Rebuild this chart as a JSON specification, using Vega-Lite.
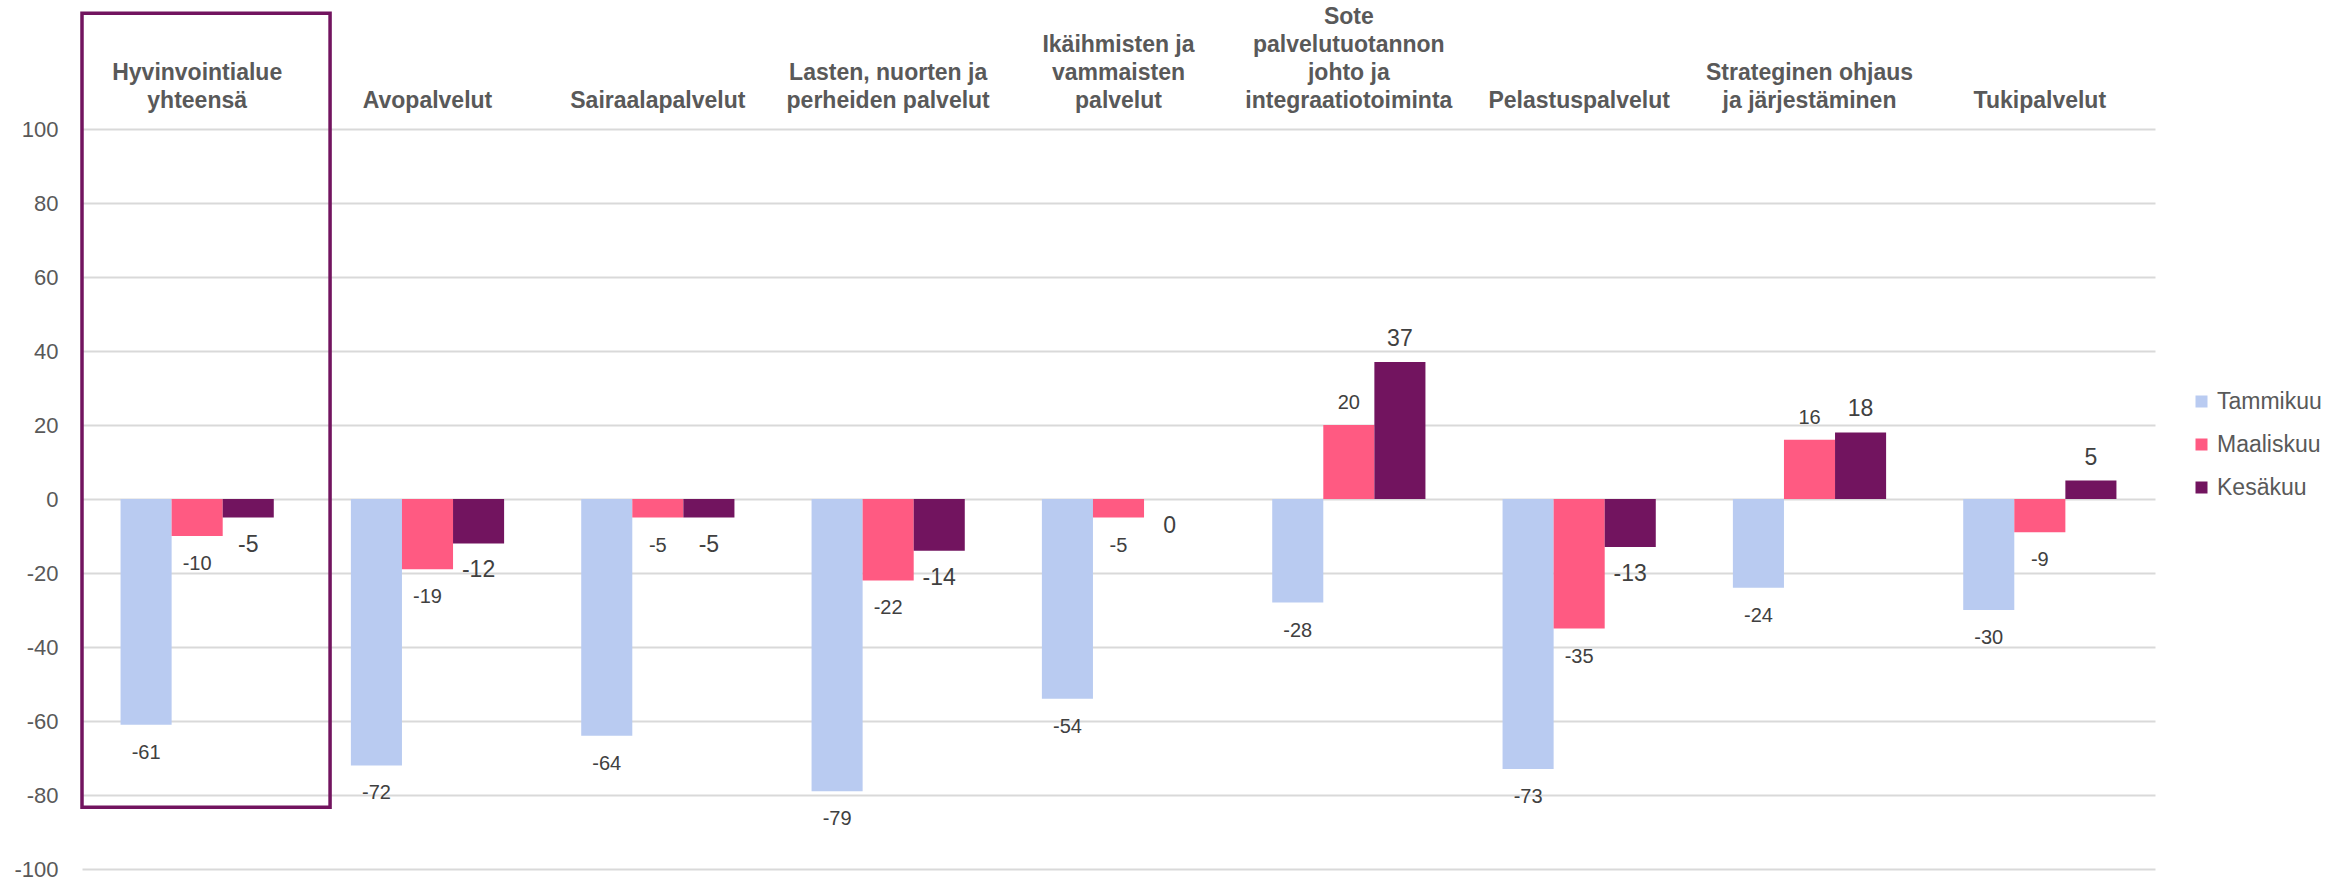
{
  "$schema": "https://vega.github.io/schema/vega-lite/v6.json",
  "width": 2073,
  "height": 740,
  "autosize": "none",
  "padding": {"left": 82, "top": 129, "right": 196, "bottom": 13},
  "background": "white",
  "config": {"view": {"stroke": null}, "font": "Liberation Sans"},
  "data": {
    "values": [
      {"alue": "Hyvinvointialue yhteensä", "kk": "Tammikuu", "arvo": -61},
      {"alue": "Hyvinvointialue yhteensä", "kk": "Maaliskuu", "arvo": -10},
      {"alue": "Hyvinvointialue yhteensä", "kk": "Kesäkuu", "arvo": -5},
      {"alue": "Avopalvelut", "kk": "Tammikuu", "arvo": -72},
      {"alue": "Avopalvelut", "kk": "Maaliskuu", "arvo": -19},
      {"alue": "Avopalvelut", "kk": "Kesäkuu", "arvo": -12},
      {"alue": "Sairaalapalvelut", "kk": "Tammikuu", "arvo": -64},
      {"alue": "Sairaalapalvelut", "kk": "Maaliskuu", "arvo": -5},
      {"alue": "Sairaalapalvelut", "kk": "Kesäkuu", "arvo": -5},
      {"alue": "Lasten, nuorten ja perheiden palvelut", "kk": "Tammikuu", "arvo": -79},
      {"alue": "Lasten, nuorten ja perheiden palvelut", "kk": "Maaliskuu", "arvo": -22},
      {"alue": "Lasten, nuorten ja perheiden palvelut", "kk": "Kesäkuu", "arvo": -14},
      {"alue": "Ikäihmisten ja vammaisten palvelut", "kk": "Tammikuu", "arvo": -54},
      {"alue": "Ikäihmisten ja vammaisten palvelut", "kk": "Maaliskuu", "arvo": -5},
      {"alue": "Ikäihmisten ja vammaisten palvelut", "kk": "Kesäkuu", "arvo": 0},
      {"alue": "Sote palvelutuotannon johto ja integraatiotoiminta", "kk": "Tammikuu", "arvo": -28},
      {"alue": "Sote palvelutuotannon johto ja integraatiotoiminta", "kk": "Maaliskuu", "arvo": 20},
      {"alue": "Sote palvelutuotannon johto ja integraatiotoiminta", "kk": "Kesäkuu", "arvo": 37},
      {"alue": "Pelastuspalvelut", "kk": "Tammikuu", "arvo": -73},
      {"alue": "Pelastuspalvelut", "kk": "Maaliskuu", "arvo": -35},
      {"alue": "Pelastuspalvelut", "kk": "Kesäkuu", "arvo": -13},
      {"alue": "Strateginen ohjaus ja järjestäminen", "kk": "Tammikuu", "arvo": -24},
      {"alue": "Strateginen ohjaus ja järjestäminen", "kk": "Maaliskuu", "arvo": 16},
      {"alue": "Strateginen ohjaus ja järjestäminen", "kk": "Kesäkuu", "arvo": 18},
      {"alue": "Tukipalvelut", "kk": "Tammikuu", "arvo": -30},
      {"alue": "Tukipalvelut", "kk": "Maaliskuu", "arvo": -9},
      {"alue": "Tukipalvelut", "kk": "Kesäkuu", "arvo": 5}
    ]
  },
  "encoding": {
    "y": {
      "field": "arvo",
      "type": "quantitative",
      "scale": {"domain": [-100, 100], "nice": false, "zero": false},
      "axis": {
        "title": null,
        "values": [-100, -80, -60, -40, -20, 0, 20, 40, 60, 80, 100],
        "domain": false,
        "ticks": false,
        "labelFont": "Liberation Sans",
        "labelFontSize": 22,
        "labelColor": "#595959",
        "labelPadding": 24,
        "labelExpr": "replace(datum.label, '\u2212', '-')",
        "gridColor": "#D9D9D9",
        "gridWidth": 2
      }
    }
  },
  "resolve": {"scale": {"x": "independent"}},
  "layer": [
    {
      "transform": [{"filter": "datum.alue == 'Hyvinvointialue yhteensä' && datum.kk == 'Tammikuu'"}],
      "mark": {"type": "rect", "fill": "transparent", "stroke": "#72145F", "strokeWidth": 3.5},
      "encoding": {
        "x": {"datum": 0, "type": "quantitative", "scale": {"domain": [0, 9], "nice": false, "zero": false}, "axis": null},
        "x2": {"datum": 1.077},
        "y": {"datum": 131.3, "type": "quantitative"},
        "y2": {"datum": -83.3}
      }
    },
    {
      "encoding": {
        "x": {
          "field": "alue",
          "type": "nominal",
          "sort": null,
          "scale": {
            "domain": [
              "Hyvinvointialue yhteensä",
              "Avopalvelut",
              "Sairaalapalvelut",
              "Lasten, nuorten ja perheiden palvelut",
              "Ikäihmisten ja vammaisten palvelut",
              "Sote palvelutuotannon johto ja integraatiotoiminta",
              "Pelastuspalvelut",
              "Strateginen ohjaus ja järjestäminen",
              "Tukipalvelut"
            ],
            "paddingInner": 0,
            "paddingOuter": 0
          },
          "axis": {
            "orient": "top",
            "title": null,
            "domain": false,
            "ticks": false,
            "tickSize": 0,
            "grid": false,
            "labelAngle": 0,
            "labelFont": "Liberation Sans",
            "labelFontSize": 23,
            "labelFontWeight": "bold",
            "labelColor": "#595959",
            "labelPadding": {
              "condition": [
                {"test": "datum.value == 'Sote palvelutuotannon johto ja integraatiotoiminta'", "value": 101},
                {"test": "datum.value == 'Ikäihmisten ja vammaisten palvelut'", "value": 73},
                {"test": "datum.value == 'Hyvinvointialue yhteensä' || datum.value == 'Lasten, nuorten ja perheiden palvelut' || datum.value == 'Strateginen ohjaus ja järjestäminen'", "value": 45}
              ],
              "value": 17
            },
            "labelBaseline": "bottom",
            "labelLineHeight": 28,
            "labelLimit": 0,
            "labelOverlap": false,
            "labelExpr": "datum.value == 'Hyvinvointialue yhteensä' ? ['Hyvinvointialue', 'yhteensä'] : datum.value == 'Lasten, nuorten ja perheiden palvelut' ? ['Lasten, nuorten ja', 'perheiden palvelut'] : datum.value == 'Ikäihmisten ja vammaisten palvelut' ? ['Ikäihmisten ja', 'vammaisten', 'palvelut'] : datum.value == 'Sote palvelutuotannon johto ja integraatiotoiminta' ? ['Sote', 'palvelutuotannon', 'johto ja', 'integraatiotoiminta'] : datum.value == 'Strateginen ohjaus ja järjestäminen' ? ['Strateginen ohjaus', 'ja järjestäminen'] : datum.label"
          }
        },
        "xOffset": {"field": "kk", "type": "nominal", "sort": ["Tammikuu", "Maaliskuu", "Kesäkuu"], "scale": {"paddingOuter": 0.755, "paddingInner": 0}}
      },
      "layer": [
        {
          "mark": {"type": "bar"},
          "encoding": {
            "color": {
              "field": "kk",
              "type": "nominal",
              "sort": ["Tammikuu", "Maaliskuu", "Kesäkuu"],
              "scale": {"domain": ["Tammikuu", "Maaliskuu", "Kesäkuu"], "range": ["#B9CBF1", "#FF5A82", "#72145F"]},
              "legend": {
                "title": null,
                "orient": "none",
                "legendX": 2108,
                "legendY": 261,
                "symbolType": "square",
                "symbolSize": 144,
                "symbolStrokeWidth": 0,
                "labelFont": "Liberation Sans",
                "labelFontSize": 23,
                "labelColor": "#595959",
                "rowPadding": 19,
                "labelOffset": 4,
                "padding": 0
              }
            }
          }
        },
        {
          "transform": [{"filter": "datum.arvo > 0"}],
          "mark": {"type": "text", "baseline": "alphabetic", "dy": -16, "color": "#404040", "font": "Liberation Sans"},
          "encoding": {
            "text": {"field": "arvo", "type": "nominal"},
            "size": {"condition": {"test": "datum.kk === 'Kesäkuu'", "value": 23}, "value": 20}
          }
        },
        {
          "transform": [{"filter": "datum.arvo <= 0"}],
          "mark": {"type": "text", "baseline": "alphabetic", "dy": 34, "color": "#404040", "font": "Liberation Sans"},
          "encoding": {
            "text": {"field": "arvo", "type": "nominal"},
            "size": {"condition": {"test": "datum.kk === 'Kesäkuu'", "value": 23}, "value": 20}
          }
        }
      ]
    }
  ]
}
